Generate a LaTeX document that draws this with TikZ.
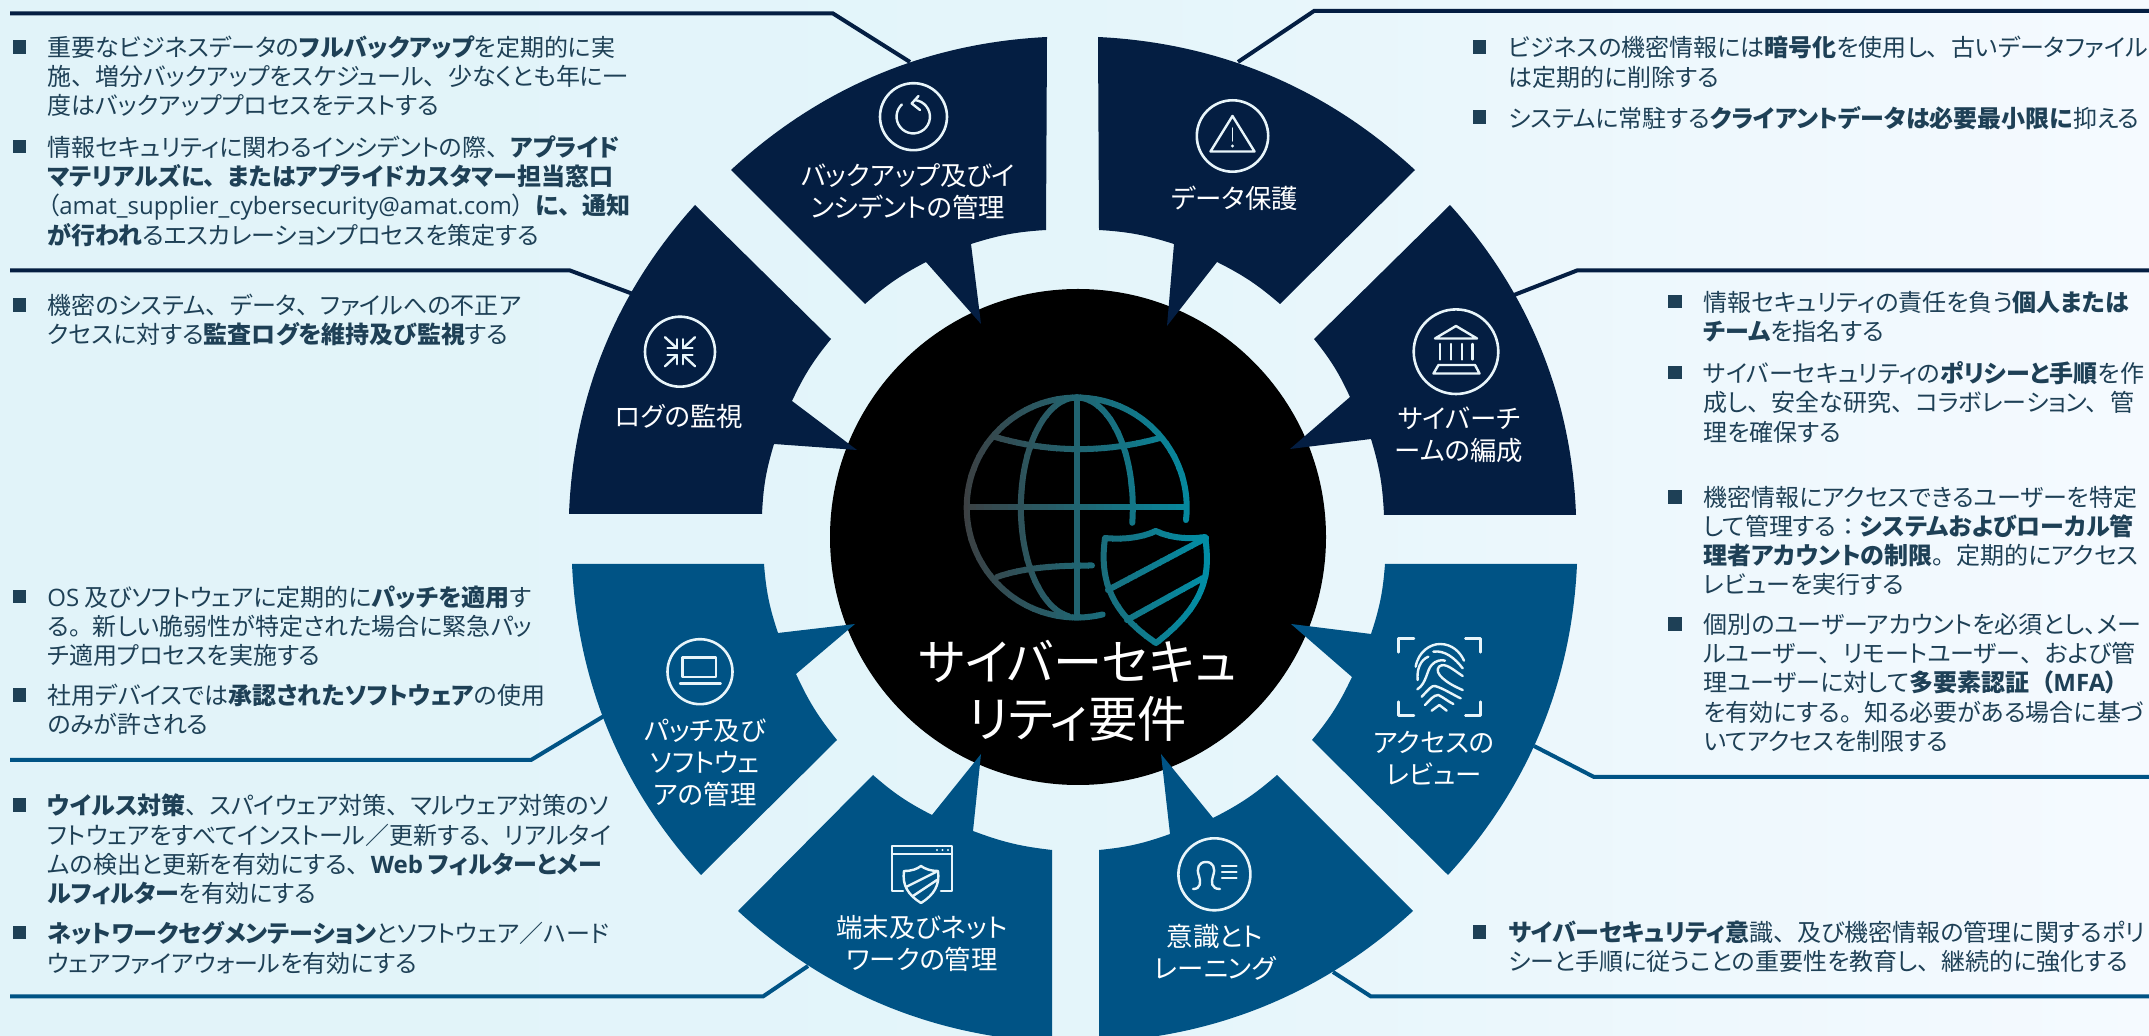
\documentclass[tikz,border=0pt]{standalone}
\usepackage{fontspec}
\setmainfont[RawFeature=+palt]{Noto Sans CJK JP}
\newfontfamily\latfont{Open Sans}
\newcommand{\lat}[1]{{\latfont #1}}
% full width punctuation inside the proportional setting
\newcommand{\tn}{、\hspace{.5em}}
\newcommand{\mr}{。\hspace{.5em}}
\newcommand{\kl}{\hspace{.5em}（}
\newcommand{\kr}{）\hspace{.5em}}
\newcommand{\cl}{\hspace{.25em}：\hspace{.25em}}

\definecolor{navyseg}{HTML}{041E42}
\definecolor{blueseg}{HTML}{005385}
\definecolor{bodytext}{HTML}{1E4056}
\definecolor{iconwhite}{HTML}{E8F5FA}
\definecolor{grayend}{HTML}{3C4043}
\definecolor{tealend}{HTML}{0090A8}
\definecolor{bgleft}{HTML}{E1F3F9}
\definecolor{bgmid}{HTML}{E4F5FA}
\definecolor{bgright}{HTML}{F5FAFF}

\tikzset{
    rimarc/.style = {bend right=20,looseness=.9},
    hubarc/.style = {bend left=7},
    bodybox/.style = {anchor=north west,inner sep=0pt,align=left,yshift=5.66pt,text=bodytext,
        font=\fontsize{12}{14.6}\selectfont,execute at begin node=\strut},
    bulletbox/.style = {rectangle,fill=bodytext,inner sep=0pt,minimum size=6.8pt},
    seglabel/.style = {inner sep=0pt,align=center,text=white,font=\fontsize{13.2}{16}\selectfont},
    ringicon/.style = {circle,draw=iconwhite,line width=1.3pt,inner sep=0pt},
    iconline/.style = {draw=iconwhite,line width=1.2pt,line cap=round,line join=round},
    navylead/.style = {draw=navyseg,line width=2pt},
    bluelead/.style = {draw=blueseg,line width=2pt},
}

\begin{document}
\begin{tikzpicture}[x=0.5pt,y=-0.5pt]

    \useasboundingbox (0,0) rectangle (2149,1036);
    \clip (0,0) rectangle (2149,1036);
    \shade[left color=bgleft,right color=bgright,middle color=bgmid] (0,0) rectangle (2149,1036);

    % leader lines
    \path   (10,13.5) coordinate (la1) (833,13.5) coordinate (la2) (910,62) coordinate (la3)
            (10,270.5) coordinate (lb1) (570,270.5) coordinate (lb2) (633,294) coordinate (lb3)
            (10,760) coordinate (lc1) (531,760) coordinate (lc2) (604,716) coordinate (lc3)
            (10,996.5) coordinate (ld1) (763,996.5) coordinate (ld2) (808,966) coordinate (ld3)
            (2149,11) coordinate (le1) (1314,11) coordinate (le2) (1238,62) coordinate (le3)
            (2149,270.5) coordinate (lf1) (1577,270.5) coordinate (lf2) (1514,295) coordinate (lf3)
            (2149,777) coordinate (lg1) (1594,777) coordinate (lg2) (1534,746) coordinate (lg3)
            (2149,996.5) coordinate (lh1) (1371,996.5) coordinate (lh2) (1333,972) coordinate (lh3);
    \draw[navylead] (la1) -- (la2) -- (la3);
    \draw[navylead] (lb1) -- (lb2) -- (lb3);
    \draw[bluelead] (lc1) -- (lc2) -- (lc3);
    \draw[bluelead] (ld1) -- (ld2) -- (ld3);
    \draw[navylead] (le1) -- (le2) -- (le3);
    \draw[navylead] (lf1) -- (lf2) -- (lf3);
    \draw[bluelead] (lg1) -- (lg2) -- (lg3);
    \draw[bluelead] (lh1) -- (lh2) -- (lh3);

    % hub
    \fill[black] (1078,537) circle [radius=248];

    % globe and shield, strip by strip for the colour run
    \foreach \k in {0,...,31} {
        \pgfmathsetmacro{\pct}{100*\k/31}
        \colorlet{stripcol}{tealend!\pct!grayend}
        \begin{scope}
            \clip (960+8*\k,385) rectangle (969+8*\k,655);
            \begin{scope}[draw=stripcol,line width=3pt,line cap=round,line join=round]
                \draw (1186,520) arc [start angle=6.5,end angle=-283.6,radius=110];
                \draw (1076.8,397) -- (1076.8,617);
                \draw (1076.8,397.5) arc [start angle=-90,end angle=-262,x radius=56,y radius=110];
                \draw (1076.8,397.5) arc [start angle=-90,end angle=8,x radius=56,y radius=110];
                \draw (967,507.5) -- (1186,507.5);
                \draw (995,437) .. controls (1050,453) and (1105,453) .. (1160,438);
                \draw (997,577) .. controls (1025,567) and (1060,565.5) .. (1092,565.5);
                \draw (1105,538) .. controls (1125,540) and (1143,537) .. (1155.7,531)
                    .. controls (1168,537) and (1187,540) .. (1205,537)
                    .. controls (1211,575) and (1205,605) .. (1156,643)
                    .. controls (1107,610) and (1100,575) .. (1105,538) -- cycle;
                \draw (1108,590) -- (1206,538);
                \draw (1127,620) -- (1203,578);
            \end{scope}
        \end{scope}
    }

    % segments
    \fill[navyseg] (1047,37) to[rimarc] (731,170) -- (865,304) to[hubarc] (926,262) -- (981,324) -- (971,244) to[hubarc] (1046,230) -- cycle;
    \fill[navyseg] (1415,170) to[rimarc] (1098,37) -- (1099,230) to[hubarc] (1174,244) -- (1167,326) -- (1217,262) to[hubarc] (1280,304) -- cycle;
    \fill[navyseg] (1576,515) to[rimarc] (1450,205) -- (1314,339) to[hubarc] (1350,397) -- (1290,449) -- (1371,439) to[hubarc] (1384,515) -- cycle;
    \fill[navyseg] (695,205) to[rimarc] (569,514) -- (762,514) to[hubarc] (774,444) -- (857,450) -- (792,401) to[hubarc] (831,339) -- cycle;
    \fill[blueseg] (572,564) to[rimarc] (701,875) -- (837,740) to[hubarc] (796,674) -- (855,624) -- (778,633) to[hubarc] (764,564) -- cycle;
    \fill[blueseg] (1448,875) to[rimarc] (1577,564) -- (1385,564) to[hubarc] (1371,634) -- (1291,624) -- (1352,677) to[hubarc] (1312,740) -- cycle;
    \fill[blueseg] (738,911) to[rimarc] (1052,1042) -- (1052,850) to[hubarc] (973,831) -- (981,754) -- (932,815) to[hubarc] (873,775) -- cycle;
    \fill[blueseg] (1099,1042) to[rimarc] (1413,911) -- (1277,775) to[hubarc] (1213,818) -- (1161,754) -- (1170,834) to[hubarc] (1099,850) -- cycle;

    % icons
    \path   (913.5,116.7) node (backupicon) [ringicon,minimum size=33.5pt] {}
            (1232.5,136) node (dataicon) [ringicon,minimum size=35.7pt] {}
            (1456,351.7) node (teamicon) [ringicon,minimum size=42.3pt] {}
            (680,351.7) node (logicon) [ringicon,minimum size=35pt] {}
            (700,671.7) node (patchicon) [ringicon,minimum size=32.5pt] {}
            (1214.4,874.3) node (trainicon) [ringicon,minimum size=36pt] {};

    \draw[iconline] (915,100.1) arc [start angle=-84,end angle=227,radius=16.7];
    \draw[iconline] (918.5,96) -- (911.7,103.5) -- (920,110);

    \draw[iconline] (1232.5,116) -- (1254.5,151.5) -- (1210.5,151.5) -- cycle;
    \draw[iconline,line width=.7pt] (1232.5,128) -- (1232.5,141);
    \fill[iconwhite] (1232.5,146) circle [radius=1.6];

    \draw[iconline] (1435,338.5) -- (1456,326) -- (1477,338.5) -- cycle;
    \foreach \px in {1440,1451,1461.7,1472.3}
        \draw[iconline] (\px,344) -- (\px,359.5);
    \draw[iconline] (1438.5,365) -- (1475,365) -- (1479.5,373.5) -- (1433.5,373.5) -- cycle;

    \foreach \sx/\sy in {-1/-1,1/-1,-1/1,1/1} {
        \begin{scope}[shift={(680,351.7)},xscale=\sx,yscale=\sy]
            \draw[iconline] (15,14.5) -- (3,3.4);
            \draw[iconline] (12.5,3.4) -- (3,3.4) -- (3,12.5);
        \end{scope}
    }

    \draw[iconline] (682.3,657.7) rectangle (715.7,677.3);
    \draw[iconline] (680,683.5) -- (720.7,683.5);

    % fingerprint, in the crop's thirds of a pixel
    \begin{scope}[shift={(1390,620)},x=.1667pt,y=-.1667pt]
        \draw[iconline] (72,55) -- (25,55) -- (25,97);
        \draw[iconline] (226,55) -- (272,55) -- (272,97);
        \draw[iconline] (25,245) -- (25,287) -- (72,287);
        \draw[iconline] (272,245) -- (272,287) -- (226,287);
        \draw[iconline] (77,140) .. controls (85,95) and (120,72) .. (150,72) .. controls (185,72) and (210,95) .. (222,122);
        \draw[iconline] (83,180) .. controls (80,150) and (90,120) .. (115,110);
        \draw[iconline] (130,95) .. controls (165,90) and (195,115) .. (218,145);
        \draw[iconline] (82,208) .. controls (110,190) and (110,150) .. (125,135) .. controls (135,122) and (155,118) .. (165,122);
        \draw[iconline] (218,168) .. controls (190,150) and (165,125) .. (147,140) .. controls (130,160) and (170,190) .. (218,210);
        \draw[iconline] (95,230) .. controls (115,210) and (125,195) .. (135,198) .. controls (160,205) and (190,225) .. (212,235);
        \draw[iconline] (105,255) .. controls (120,240) and (130,225) .. (145,225) .. controls (160,232) and (175,245) .. (190,252);
        \draw[iconline] (125,272) -- (148,255) -- (170,272);
    \end{scope}

    % window with shield
    \draw[iconline] (903,891) -- (892,891) -- (892,846) -- (952,846) -- (952,891) -- (941,891);
    \draw[iconline] (892,854) -- (952,854);
    \foreach \px in {937,942.5,948}
        \fill[iconwhite] (\px,850) circle [radius=1.2];
    \draw[iconline] (904,871) .. controls (912,871) and (917,869) .. (921,866)
        .. controls (925,869) and (931,871) .. (938,871)
        .. controls (940,885) and (934,895) .. (921,903)
        .. controls (908,895) and (902,885) .. (904,871) -- cycle;
    \draw[iconline] (906,887) -- (936,872);
    \draw[iconline] (913,896) -- (937,880);

    \draw[iconline] (1193,889) .. controls (1201,889) and (1201,882) .. (1199,876)
        .. controls (1196,868) and (1199,862) .. (1206,862)
        .. controls (1213,862) and (1216,868) .. (1213,876)
        .. controls (1211,882) and (1211,889) .. (1220,889);
    \foreach \py in {866,872,878}
        \draw[iconline] (1222,\py) -- (1236.5,\py);

    % segment labels
    \path   (908,192) node (backuplabel) [seglabel] {バックアップ及びイ\\ンシデントの管理}
            (1234.5,198) node (datalabel) [seglabel] {データ保護}
            (1459,434.5) node (teamlabel) [seglabel] {サイバーチ\\ームの編成}
            (679,416) node (loglabel) [seglabel] {ログの監視}
            (705,763) node (patchlabel) [seglabel] {パッチ及び\\ソフトウェ\\アの管理}
            (1434,758) node (accesslabel) [seglabel] {アクセスの\\レビュー}
            (922,943.5) node (netlabel) [seglabel] {端末及びネット\\ワークの管理}
            (1215,952) node (trainlabel) [seglabel] {意識とト\\レーニング};

    \path (1077.5,691) node (title) [inner sep=0pt,align=center,text=white,font=\fontsize{24.6}{28.5}\selectfont] {サイバーセキュ\\リティ要件};

    % left column
    \path   (19.5,47) node (ba) [bulletbox] {}
            (19.5,146.7) node (bb) [bulletbox] {}
            (19.5,305) node (bc) [bulletbox] {}
            (19.5,596.7) node (bd) [bulletbox] {}
            (19.5,695) node (be) [bulletbox] {}
            (19.5,805) node (bf) [bulletbox] {}
            (19.5,932.7) node (bg) [bulletbox] {};
    \path   (47,46.7) node (ta) [bodybox] {重要なビジネスデータの\textbf{フルバックアップ}を定期的に実\\施\tn 増分バックアップをスケジュール\tn 少なくとも年に一\\度はバックアッププロセスをテストする}
            (47,146.7) node (tb) [bodybox] {情報セキュリティに関わるインシデントの際\tn\textbf{アプライド}\\\textbf{マテリアルズに\tn またはアプライドカスタマー担当窓口}\\（\lat{amat\_supplier\_cybersecurity@amat.com}\kr\textbf{に\tn 通知}\\\textbf{が行われ}るエスカレーションプロセスを策定する}
            (47,305) node (tc) [bodybox] {機密のシステム\tn データ\tn ファイルへの不正ア\\クセスに対する\textbf{監査ログを維持及び監視}する}
            (47,596.7) node (td) [bodybox] {\lat{OS} 及びソフトウェアに定期的に\textbf{パッチを適用}す\\る\mr 新しい脆弱性が特定された場合に緊急パッ\\チ適用プロセスを実施する}
            (47,695) node (te) [bodybox] {社用デバイスでは\textbf{承認されたソフトウェア}の使用\\のみが許される}
            (47,805) node (tf) [bodybox] {\textbf{ウイルス対策}\tn スパイウェア対策\tn マルウェア対策のソ\\フトウェアをすべてインストール／更新する\tn リアルタイ\\ムの検出と更新を有効にする\tn\textbf{\lat{Web} フィルターとメー}\\\textbf{ルフィルター}を有効にする}
            (47,932.7) node (tg) [bodybox] {\textbf{ネットワークセグメンテーション}とソフトウェア／ハード\\ウェアファイアウォールを有効にする};

    % right column
    \path   (1479.5,47.3) node (bh) [bulletbox] {}
            (1479.5,117.3) node (bi) [bulletbox] {}
            (1674.7,301.7) node (bj) [bulletbox] {}
            (1674.7,372.7) node (bk) [bulletbox] {}
            (1674.7,496.8) node (bl) [bulletbox] {}
            (1674.7,624.3) node (bm) [bulletbox] {}
            (1479.5,932) node (bn) [bulletbox] {};
    \path   (1508,47.3) node (th) [bodybox] {ビジネスの機密情報には\textbf{暗号化}を使用し\tn 古いデータファイル\\は定期的に削除する}
            (1508,117.3) node (ti) [bodybox] {システムに常駐する\textbf{クライアントデータは必要最小限に}抑える}
            (1703,301.7) node (tj) [bodybox] {情報セキュリティの責任を負う\textbf{個人または}\\\textbf{チーム}を指名する}
            (1703,372.7) node (tk) [bodybox] {サイバーセキュリティの\textbf{ポリシーと手順}を作\\成し\tn 安全な研究\tn コラボレーション\tn 管\\理を確保する}
            (1703,496.8) node (tl) [bodybox] {機密情報にアクセスできるユーザーを特定\\して管理する\cl\textbf{システムおよびローカル管}\\\textbf{理者アカウントの制限}\mr 定期的にアクセス\\レビューを実行する}
            (1703,624.3) node (tm) [bodybox] {個別のユーザーアカウントを必須とし、メー\\ルユーザー\tn リモートユーザー\tn および管\\理ユーザーに対して\textbf{多要素認証\kl\lat{MFA}）}\\を有効にする\mr 知る必要がある場合に基づ\\いてアクセスを制限する}
            (1508,932) node (tn) [bodybox] {\textbf{サイバーセキュリティ意}識\tn 及び機密情報の管理に関するポリ\\シーと手順に従うことの重要性を教育し\tn 継続的に強化する};

\end{tikzpicture}
\end{document}
